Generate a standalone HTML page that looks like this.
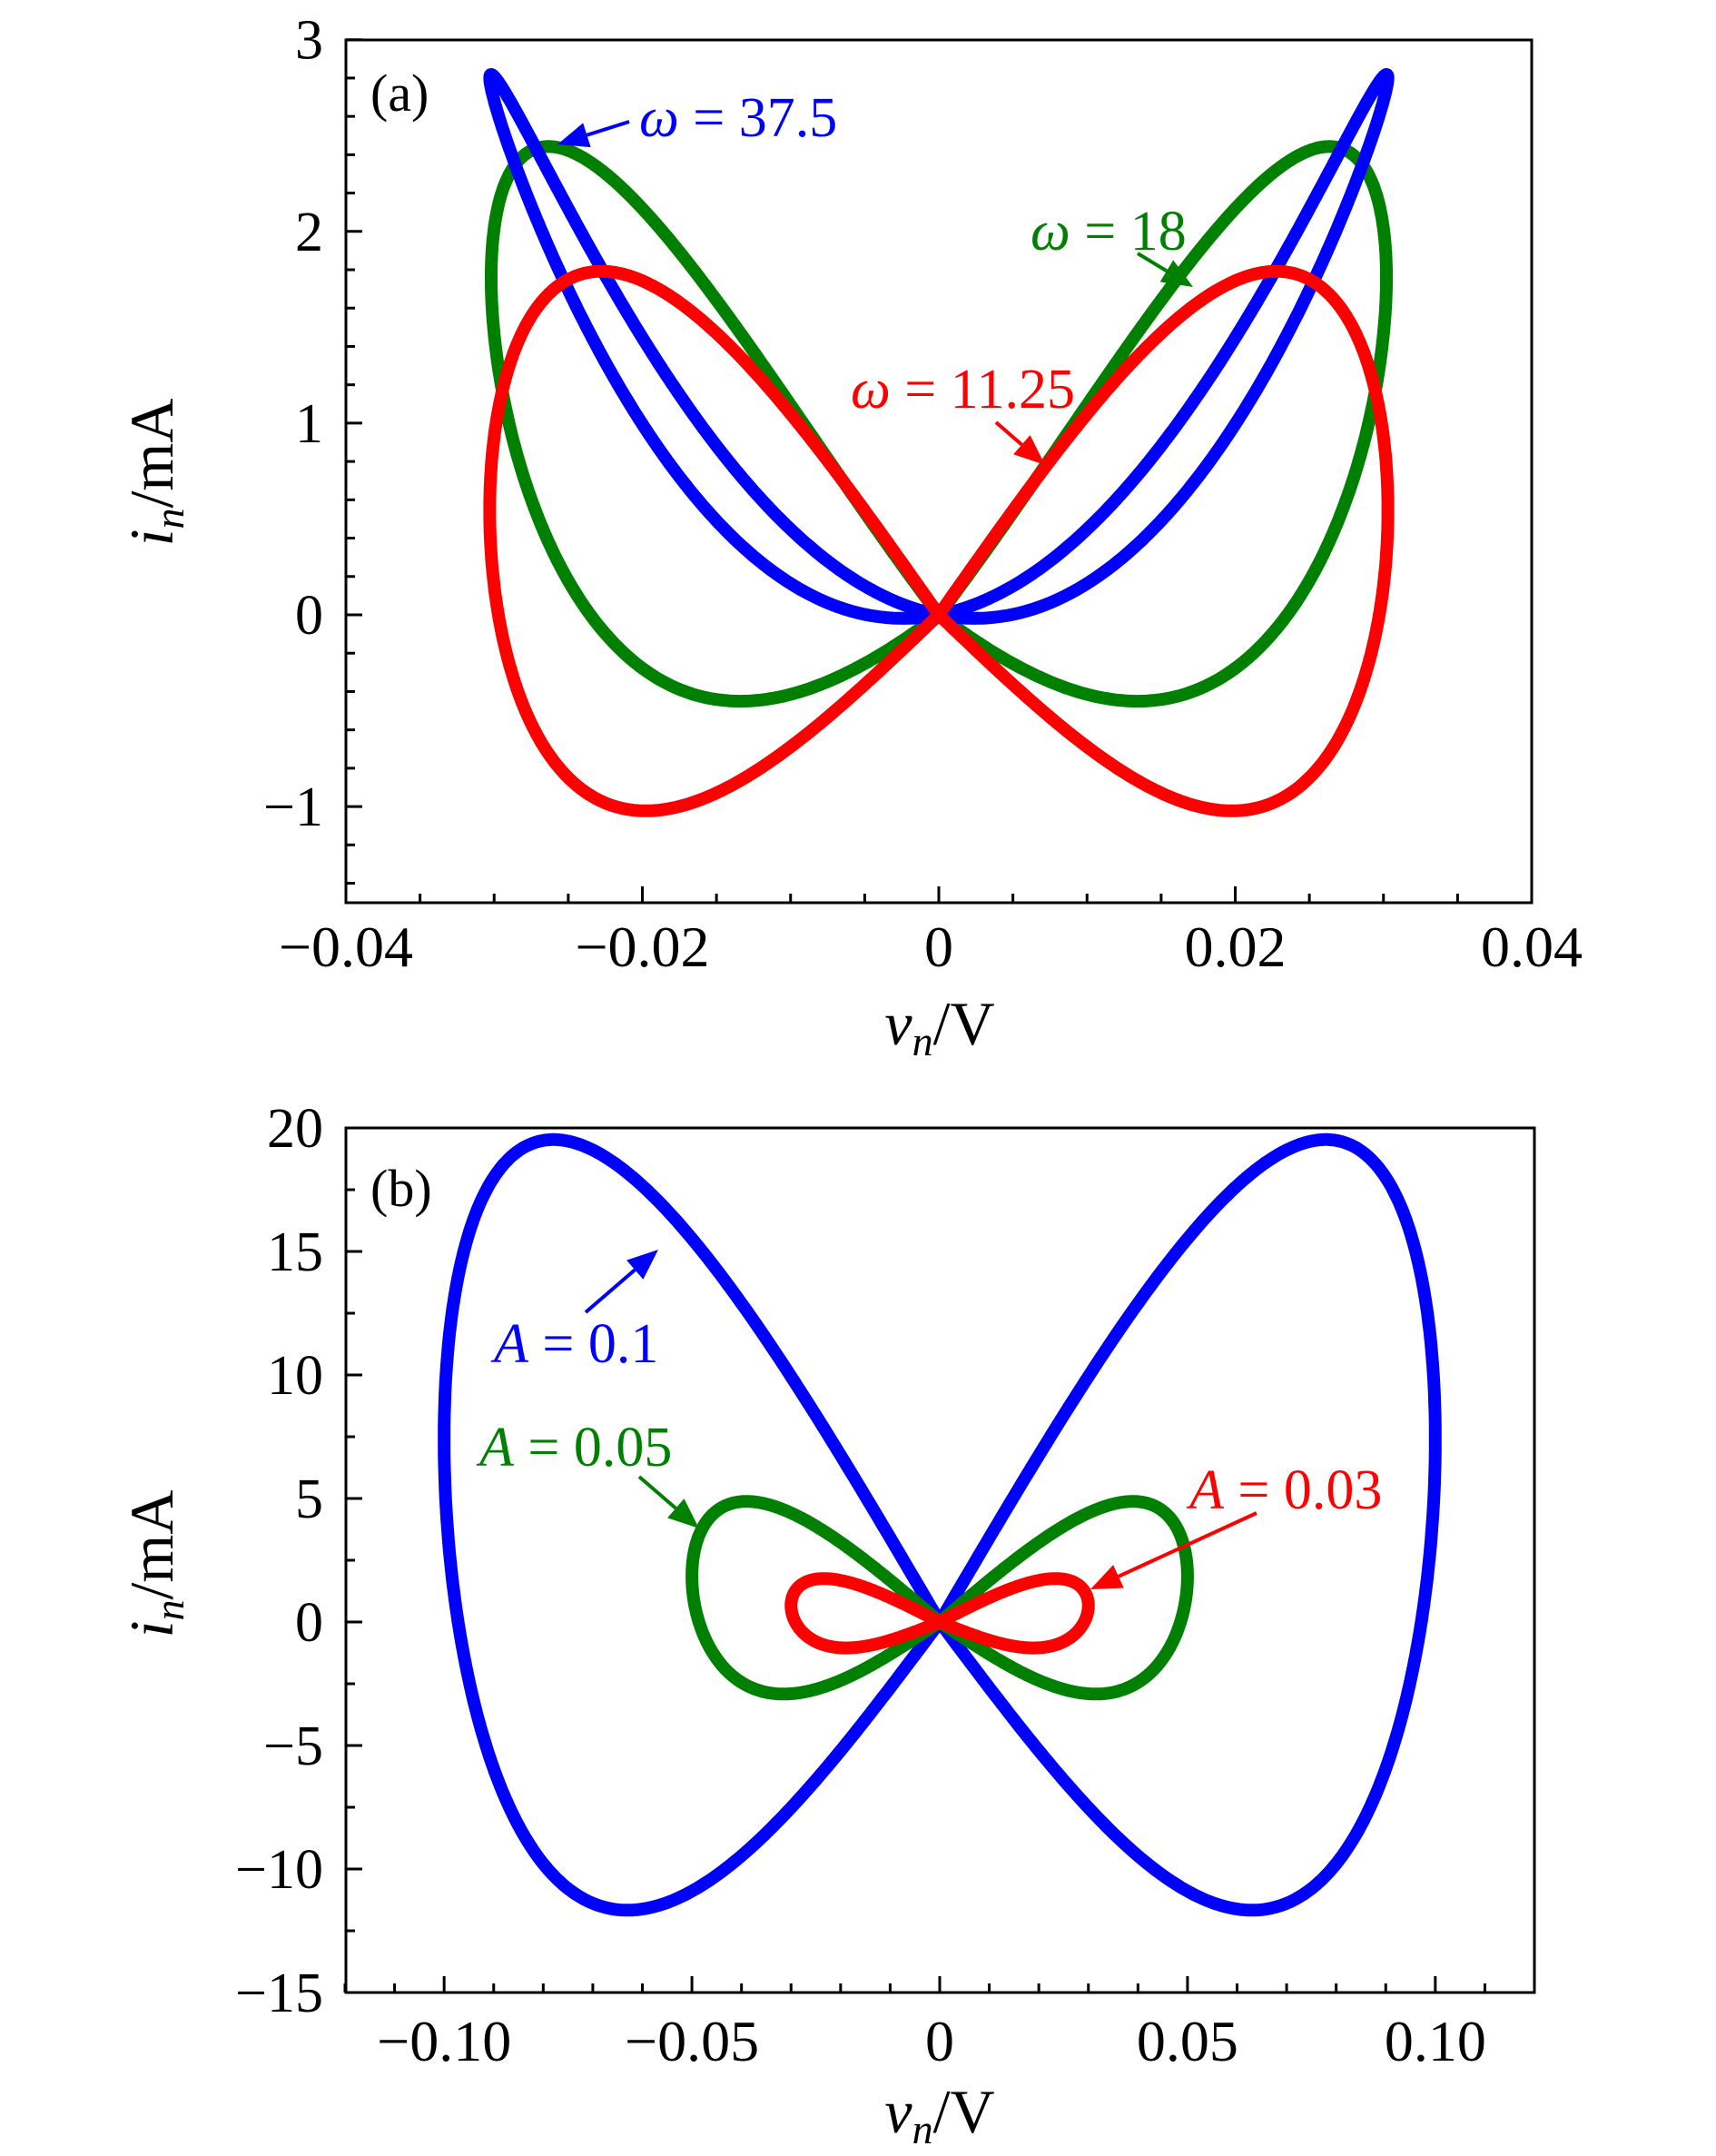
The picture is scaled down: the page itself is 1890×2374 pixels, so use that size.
<!DOCTYPE html>
<html><head><meta charset="utf-8"><style>
body{margin:0;background:#fff}
svg{display:block}
text{font-family:"Liberation Serif",serif;}
</style></head><body>
<svg id="s" width="1890" height="2374" viewBox="0 0 1890 2374" xmlns="http://www.w3.org/2000/svg">
<rect width="1890" height="2374" fill="#fff"/>
<g id="curves" fill="none" stroke-width="14" stroke-linejoin="round"></g>
<g id="ticks" stroke="#000" stroke-width="3"></g>
<rect x="381" y="44" width="1306" height="950" fill="none" stroke="#000" stroke-width="3"/>
<rect x="381" y="1242" width="1309" height="952" fill="none" stroke="#000" stroke-width="3"/>
<g id="labels" font-size="62" fill="#000"></g>
<text x="408" y="122" font-size="58">(a)</text>
<text x="704" y="150" font-size="62" fill="#0000ff"><tspan font-style="italic">ω</tspan> = 37.5</text>
<text x="1135" y="275" font-size="62" fill="#008000"><tspan font-style="italic">ω</tspan> = 18</text>
<text x="937" y="449" font-size="62" fill="#ff0000"><tspan font-style="italic">ω</tspan> = 11.25</text>
<text x="408" y="1328" font-size="58">(b)</text>
<text x="544" y="1500" font-size="62" fill="#0000ff"><tspan font-style="italic">A</tspan> = 0.1</text>
<text x="528" y="1614" font-size="62" fill="#008000"><tspan font-style="italic">A</tspan> = 0.05</text>
<text x="1310" y="1661" font-size="62" fill="#ff0000"><tspan font-style="italic">A</tspan> = 0.03</text>
<g id="arrows"></g>
<text x="190" y="520" font-size="68" text-anchor="middle" transform="rotate(-90 190 520)"><tspan font-style="italic">i</tspan><tspan font-style="italic" font-size="46" dy="12">n</tspan><tspan dy="-12">/mA</tspan></text>
<text x="1035" y="1150" font-size="68" text-anchor="middle"><tspan font-style="italic">v</tspan><tspan font-style="italic" font-size="46" dy="12">n</tspan><tspan dy="-12">/V</tspan></text>
<text x="190" y="1722" font-size="68" text-anchor="middle" transform="rotate(-90 190 1722)"><tspan font-style="italic">i</tspan><tspan font-style="italic" font-size="46" dy="12">n</tspan><tspan dy="-12">/mA</tspan></text>
<text x="1035" y="2348" font-size="68" text-anchor="middle"><tspan font-style="italic">v</tspan><tspan font-style="italic" font-size="46" dy="12">n</tspan><tspan dy="-12">/V</tspan></text>
</svg>
<script>
var NS="http://www.w3.org/2000/svg";
function el(p,t,a,txt){var e=document.createElementNS(NS,t);for(var k in a)e.setAttribute(k,a[k]);if(txt!==undefined)e.textContent=txt;document.getElementById(p).appendChild(e);return e;}
function Xa(v){return 1034+v/0.04*653;} function Ya(i){return 677-211.1*i;}
function Xb(v){return 1035+v/0.12*655;} function Yb(i){return 1786-27.2*i;}
function loop(X,Y,A,f,col){
  var d="";
  for(var side=0;side<2;side++){
    var s=side?-1:1;
    for(var k=0;k<=400;k++){var th=Math.PI*k/400;var v=A*Math.sin(th);var i=f(v,th);
      d+=(k?"L":"M")+X(s*v).toFixed(1)+","+Y(i).toFixed(1);}
    d+="Z";
  }
  el("curves","path",{d:d,stroke:col});
}
loop(Xa,Ya,0.0302,function(v,t){return v*(22+80*Math.cos(t))+1200*v*v;},"#008000");
loop(Xa,Ya,0.0303,function(v,t){return v*(15*Math.cos(t))+3050*v*v;},"#0000ff");
loop(Xa,Ya,0.0303,function(v,t){return v*(18+92*Math.cos(t));},"#ff0000");
function fb(A){var r=A/0.1;return function(v,t){var c=Math.cos(t);return v*r*(74+305*c-37*c*c);};}
loop(Xb,Yb,0.1,fb(0.1),"#0000ff");
loop(Xb,Yb,0.05,fb(0.05),"#008000");
loop(Xb,Yb,0.03,fb(0.03),"#ff0000");
function tk(x1,y1,x2,y2){el("ticks","line",{x1:x1,y1:y1,x2:x2,y2:y2});}
for(var k=-8;k<=8;k++){var x=Xa(k*0.005),L=(k%4==0)?18:10;tk(x,994,x,994-L);}
for(var k=-7;k<=15;k++){var y=Ya(k*0.2),L=(k%5==0)?18:10;tk(381,y,381+L,y);}
for(var k=-12;k<=12;k++){var x=Xb(k*0.01),L=(k%5==0)?18:10;tk(x,2194,x,2194-L);}
for(var k=-6;k<=8;k++){var y=Yb(k*2.5),L=(k%2==0)?18:10;tk(381,y,381+L,y);}
var xa=[[-0.04,"−0.04"],[-0.02,"−0.02"],[0,"0"],[0.02,"0.02"],[0.04,"0.04"]];
xa.forEach(function(p){el("labels","text",{x:Xa(p[0]),y:1064,"text-anchor":"middle","font-size":64},p[1]);});
[3,2,1,0,-1].forEach(function(v){el("labels","text",{x:356,y:Ya(v)+21,"text-anchor":"end"},v<0?"−"+(-v):""+v);});
var xb=[[-0.1,"−0.10"],[-0.05,"−0.05"],[0,"0"],[0.05,"0.05"],[0.1,"0.10"]];
xb.forEach(function(p){el("labels","text",{x:Xb(p[0]),y:2269,"text-anchor":"middle","font-size":64},p[1]);});
[20,15,10,5,0,-5,-10,-15].forEach(function(v){el("labels","text",{x:356,y:Yb(v)+21,"text-anchor":"end"},v<0?"−"+(-v):""+v);});
function arr(x1,y1,x2,y2,col){
  var dx=x2-x1,dy=y2-y1,l=Math.hypot(dx,dy),ux=dx/l,uy=dy/l,h=34,w=14;
  var bx=x2-ux*h,by=y2-uy*h;
  el("arrows","line",{x1:x1,y1:y1,x2:bx,y2:by,stroke:col,"stroke-width":4});
  el("arrows","polygon",{points:x2+","+y2+" "+(bx-uy*w)+","+(by+ux*w)+" "+(bx+uy*w)+","+(by-ux*w),fill:col});
}
arr(693,134,614,159,"#0000ff");
arr(1253,279,1314,316,"#008000");
arr(1097,465,1151,512,"#ff0000");
arr(645,1445,725,1376,"#0000ff");
arr(704,1626,770,1683,"#008000");
arr(1384,1666,1201,1750,"#ff0000");
</script>
</body></html>
